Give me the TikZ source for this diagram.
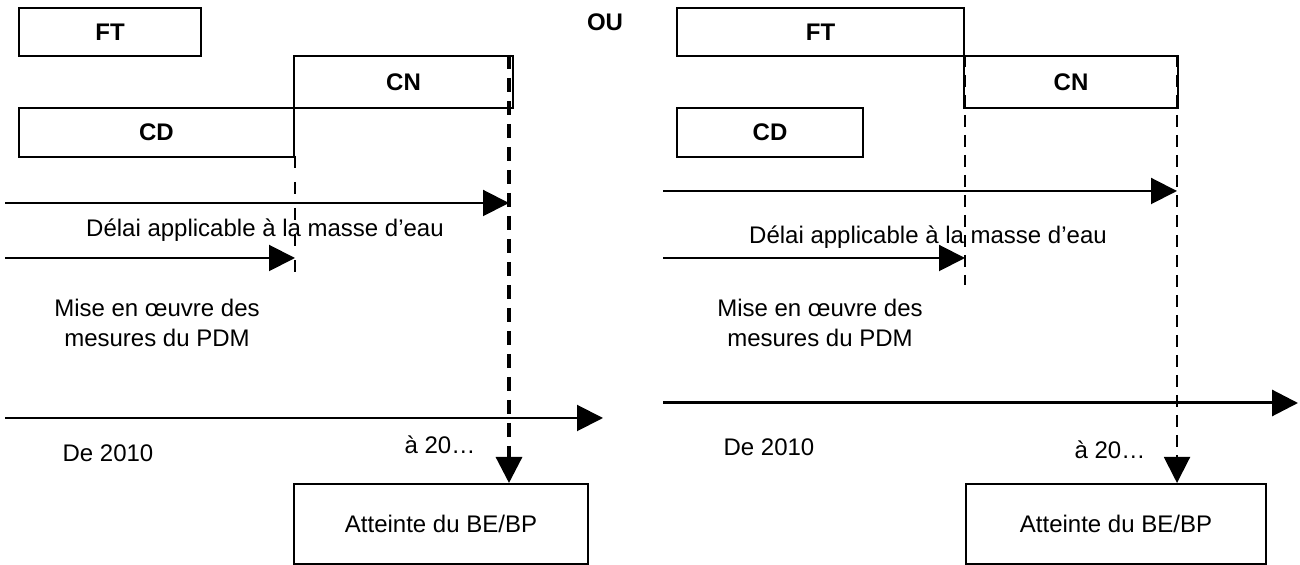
\documentclass[tikz,border=0pt]{standalone}
\usepackage{fontspec}
\setmainfont{Liberation Sans}
\usetikzlibrary{arrows.meta}
\begin{document}
\begin{tikzpicture}[x=0.5pt,y=-0.5pt,
  box/.style={draw,line width=1pt,inner sep=0pt,anchor=north west,font=\fontsize{12}{14}\selectfont},
  lbl/.style={font=\fontsize{12}{15}\selectfont,align=center,inner sep=0pt},
  tip/.style={-{Triangle[length=13pt,width=13pt]}},
  arr/.style={line width=1pt,tip},
  tdash/.style={line width=1pt,dash pattern=on 6pt off 4pt},
  kdash/.style={line width=1.6pt,dash pattern=on 7pt off 4.5pt},
  sdash/.style={line width=1pt,dash pattern=on 6pt off 7pt},
]
\useasboundingbox (0,0) rectangle (1300,565);
% ---------------- left panel ----------------
\node[box,minimum width=91pt,minimum height=24pt] (ftL) at (18,7) {\bfseries FT};
\node[box,minimum width=109.5pt,minimum height=26pt] (cnL) at (293,55) {\bfseries CN};
\node[box,minimum width=137.5pt,minimum height=24.5pt] (cdL) at (18,107) {\bfseries CD};
\node[box,minimum width=147pt,minimum height=40pt] (atL) at (293,483) {Atteinte du BE/BP};
\node[lbl] (ou) at (605,22) {\bfseries OU};
\node[lbl] (delL) at (265,230) {Délai applicable à la masse d’eau};
\node[lbl] (miseL) at (157,323) {Mise en œuvre des\\mesures du PDM};
\node[lbl] (deL) at (108,453) {De 2010};
\node[lbl] (aL) at (440,445) {à 20…};
\coordinate (a1sL) at (5,203);
\coordinate (a1eL) at (509,203);
\coordinate (a2sL) at (5,258);
\coordinate (a2eL) at (295,258);
\coordinate (tsL) at (5,418);
\coordinate (teL) at (603,418);
\coordinate (dL) at (509,55);
\coordinate (sdT) at (295,156);
\coordinate (sdB) at (295,285);
\draw[arr] (a1sL) -- (a1eL);
\draw[arr] (a2sL) -- (a2eL);
\draw[arr] (tsL) -- (teL);
\draw[kdash,tip] (dL) -- (dL |- atL.north);
\draw[sdash] (sdT) -- (sdB);
% ---------------- right panel ----------------
\node[box,minimum width=143.5pt,minimum height=24pt] (ftR) at (676,7) {\bfseries FT};
\node[box,minimum width=107pt,minimum height=26pt] (cnR) at (963,55) {\bfseries CN};
\node[box,minimum width=93pt,minimum height=24.5pt] (cdR) at (676,107) {\bfseries CD};
\node[box,minimum width=150pt,minimum height=40pt] (atR) at (965,483) {Atteinte du BE/BP};
\node[lbl] (delR) at (928,237) {Délai applicable à la masse d’eau};
\node[lbl] (miseR) at (820,323) {Mise en œuvre des\\mesures du PDM};
\node[lbl] (deR) at (769,447) {De 2010};
\node[lbl] (aR) at (1110,450) {à 20…};
\coordinate (a1sR) at (663,191);
\coordinate (a1eR) at (1177,191);
\coordinate (a2sR) at (663,258);
\coordinate (a2eR) at (965,258);
\coordinate (tsR) at (663,403);
\coordinate (teR) at (1298,403);
\coordinate (dR1) at (965,55);
\coordinate (dR1b) at (965,285);
\coordinate (dR2) at (1177,55);
\draw[arr] (a1sR) -- (a1eR);
\draw[arr] (a2sR) -- (a2eR);
\draw[line width=1.5pt,tip] (tsR) -- (teR);
\draw[tdash] (dR1) -- (dR1b);
\draw[tdash,tip] (dR2) -- (dR2 |- atR.north);
\end{tikzpicture}
\end{document}
